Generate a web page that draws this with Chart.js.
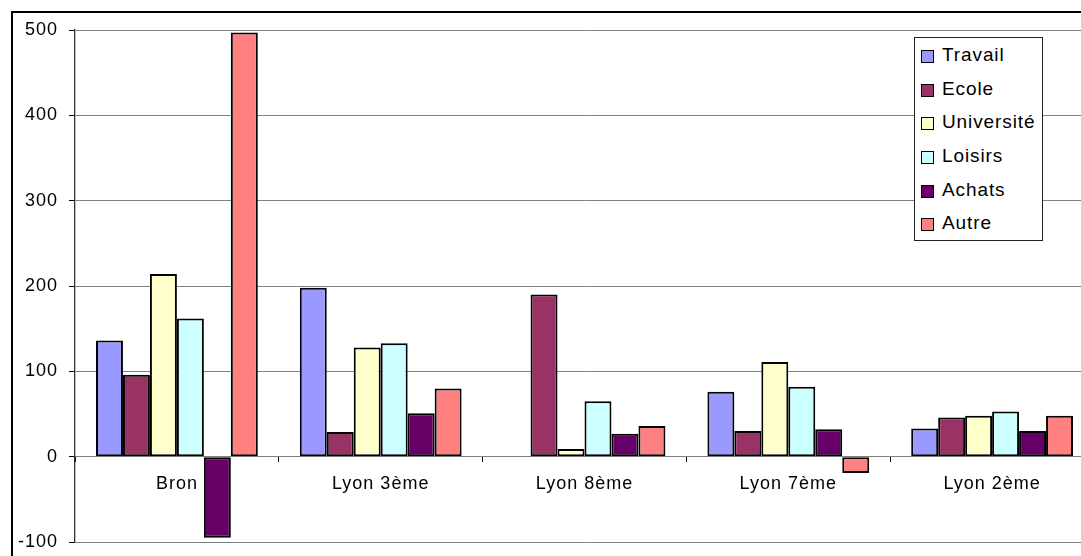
<!DOCTYPE html>
<html><head><meta charset="utf-8">
<script src="https://cdn.jsdelivr.net/npm/chart.js@4"></script>
<style>
html,body{margin:0;padding:0;overflow:hidden;background:#fff;width:1081px;height:556px}
#wrap{position:absolute;left:0;top:0;width:1110px;height:556px}
#frame{position:absolute;left:11px;top:11px;width:1200px;height:700px;border:2px solid #000;pointer-events:none}
#legend{position:absolute;left:914px;top:37px;width:127px;border:1px solid #222;background:#fff;font-family:'Liberation Sans',Arial,sans-serif;font-size:19px;letter-spacing:0.9px;color:#000}
.item{height:33.7px;display:flex;align-items:center}
.sw{width:11px;height:11px;border:1px solid #000;margin-left:6px;margin-right:8px;margin-top:3px;flex:none}
</style></head>
<body>
<div id="wrap"><canvas id="c" width="1110" height="556"></canvas></div>
<div id="frame"></div>
<div id="legend"></div>
<script>
const categories = ['Bron','Lyon 3ème','Lyon 8ème','Lyon 7ème','Lyon 2ème'];
const seriesNames = ['Travail','Ecole','Université','Loisirs','Achats','Autre'];
const travail    = [136, 198,   0,  76, 33];
const ecole      = [ 96,  29, 190,  30, 46];
const universite = [214, 128,   9, 111, 48];
const loisirs    = [162, 133,  65,  82, 53];
const achats     = [-95,  51,  27,  32, 30];
const autre      = [497,  80,  36, -19, 48];
const colors = ['#9999FF','#993366','#FFFFCC','#CCFFFF','#660066','#FF8080'];
const yTicks = [-100, 0, 100, 200, 300, 400, 500];

const values = [travail, ecole, universite, loisirs, achats, autre];
const datasets = seriesNames.map((n,i)=>({
  label:n, data:values[i], backgroundColor:colors[i], borderColor:'#000',
  borderWidth:2, borderSkipped:false,
  categoryPercentage:0.794, barPercentage:1.0
}));

const FONT = "'Liberation Sans', Arial, sans-serif";
const spacing = {
  id:'spacing',
  beforeLayout(chart){ chart.ctx.letterSpacing='1px'; },
  beforeDraw(chart){ chart.ctx.letterSpacing='1px'; }
};

new Chart(document.getElementById('c'), {
  type:'bar',
  data:{labels:categories, datasets},
  plugins:[spacing],
  options:{
    responsive:false, animation:false,
    layout:{padding:{top:30,bottom:14,left:0,right:16}},
    plugins:{legend:{display:false}, tooltip:{enabled:false}},
    scales:{
      x:{
        position:{y:0}, offset:true,
        afterFit(s){ s.paddingLeft=0; s.paddingRight=0; },
        grid:{offset:true, drawOnChartArea:false, drawTicks:true, tickLength:5, tickColor:'#000'},
        border:{display:true, color:'#808080', width:1},
        ticks:{color:'#000', font:{family:FONT, size:18}, padding:12, maxRotation:0}
      },
      y:{
        min:-100, max:500,
        afterFit(s){ s.width=75; s.paddingTop=0; s.paddingBottom=0; },
        afterBuildTicks(s){ s.ticks = yTicks.map(v=>({value:v})); },
        grid:{color:'#808080', lineWidth:1, drawTicks:true, tickLength:6, tickColor:'#000'},
        border:{display:true, color:'#333', width:1.3},
        ticks:{color:'#000', font:{family:FONT, size:18}, padding:11}
      }
    }
  }
});

const lg = document.getElementById('legend');
seriesNames.forEach((n,i)=>{
  const it=document.createElement('div'); it.className='item';
  const sw=document.createElement('div'); sw.className='sw'; sw.style.background=colors[i];
  const tx=document.createElement('span'); tx.textContent=n;
  it.appendChild(sw); it.appendChild(tx); lg.appendChild(it);
});
</script>
</body></html>
